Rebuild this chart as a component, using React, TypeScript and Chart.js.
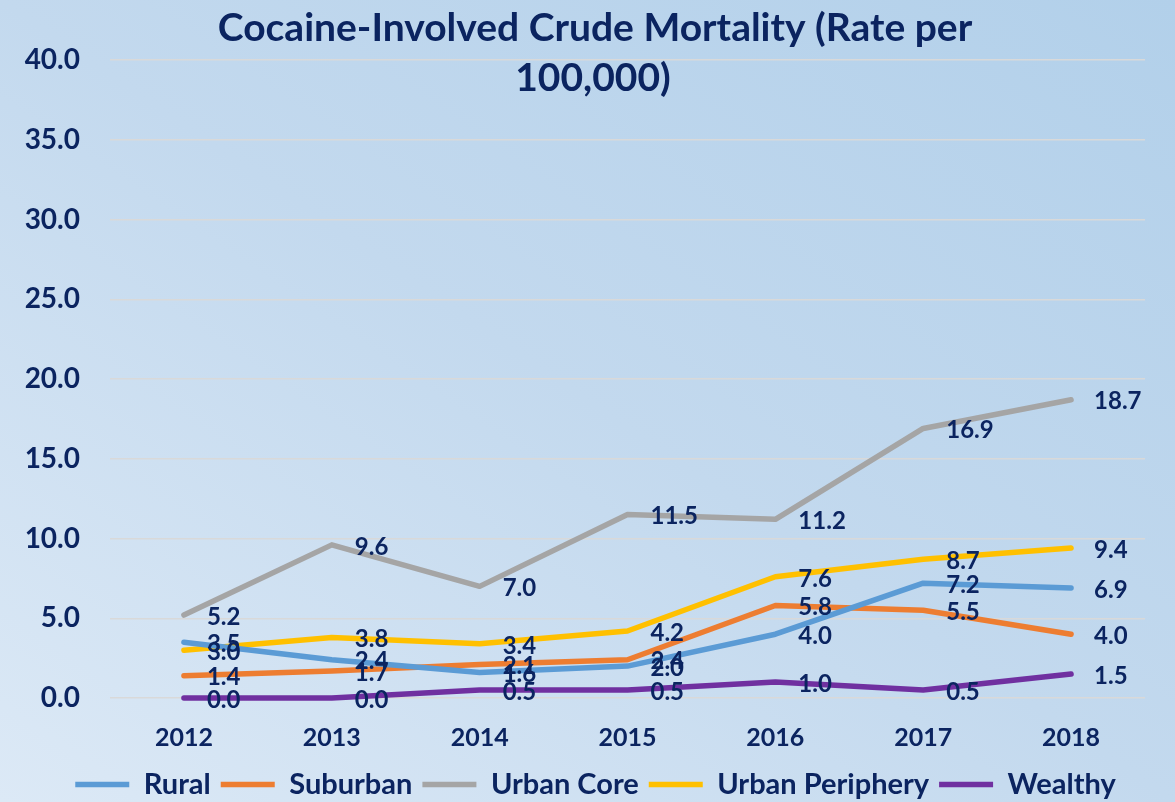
import React, { useEffect, useRef } from "react";
import { Chart, registerables } from "chart.js";

Chart.register(...registerables);

const years = ["2012", "2013", "2014", "2015", "2016", "2017", "2018"];
const rural = [3.5, 2.4, 1.6, 2.0, 4.0, 7.2, 6.9];
const suburban = [1.4, 1.7, 2.1, 2.4, 5.8, 5.5, 4.0];
const urbanCore = [5.2, 9.6, 7.0, 11.5, 11.2, 16.9, 18.7];
const urbanPeriphery = [3.0, 3.8, 3.4, 4.2, 7.6, 8.7, 9.4];
const wealthy = [0.0, 0.0, 0.5, 0.5, 1.0, 0.5, 1.5];
const seriesNames = ["Rural", "Suburban", "Urban Core", "Urban Periphery", "Wealthy"];
const seriesColors = ["#5B9BD5", "#ED7D31", "#A5A5A5", "#FFC000", "#7030A0"];
const titleLines = ["Cocaine-Involved Crude Mortality (Rate per", "100,000)"];

const NAVY = "#0b2460";
const FONT = "Lato, 'Open Sans', sans-serif";

const titlePlugin = {
  id: "customTitle",
  afterDraw(chart: any) {
    const ctx = chart.ctx;
    ctx.save();
    ctx.font = `bold 39px ${FONT}`;
    ctx.fillStyle = NAVY;
    ctx.textAlign = "center";
    ctx.textBaseline = "middle";
    ctx.fillText(titleLines[0], 595, 28);
    ctx.fillText(titleLines[1], 593, 78);
    ctx.restore();
  },
};

const dataLabelPlugin = {
  id: "dataLabels",
  afterDatasetsDraw(chart: any) {
    const ctx = chart.ctx;
    ctx.save();
    ctx.font = `bold 24px ${FONT}`;
    ctx.fillStyle = NAVY;
    ctx.textAlign = "left";
    ctx.textBaseline = "middle";
    chart.data.datasets.forEach((ds: any, i: number) => {
      const meta = chart.getDatasetMeta(i);
      meta.data.forEach((pt: any, j: number) => {
        const v = ds.data[j] as number;
        ctx.fillText(v.toFixed(1), pt.x + 23, pt.y + 2);
      });
    });
    ctx.restore();
  },
};

const legendFitPlugin = {
  id: "legendFit",
  beforeInit(chart: any) {
    const legend = chart.legend;
    if (!legend) return;
    const origFit = legend.fit;
    legend.fit = function (this: any) {
      origFit.call(this);
      this.height = 42;
    };
    const origDraw = legend.draw;
    legend.draw = function (this: any) {
      const ctx = this.ctx;
      ctx.save();
      ctx.translate(18, 0);
      origDraw.call(this);
      ctx.restore();
    };
  },
};

export default function App() {
  const ref = useRef<HTMLCanvasElement | null>(null);

  useEffect(() => {
    document.body.style.margin = "0";
    const canvas = ref.current;
    if (!canvas) return;
    const allData = [rural, suburban, urbanCore, urbanPeriphery, wealthy];
    const chart = new Chart(canvas, {
      type: "line",
      data: {
        labels: years,
        datasets: seriesNames.map((name, i) => ({
          label: name,
          data: allData[i],
          borderColor: seriesColors[i],
          backgroundColor: seriesColors[i],
          borderWidth: 5.5,
          borderCapStyle: "round",
          borderJoinStyle: "round",
          pointRadius: 0,
          pointHoverRadius: 0,
          tension: 0,
          fill: false,
          clip: false,
        })),
      },
      options: {
        responsive: false,
        animation: false,
        layout: { padding: { left: 10, right: 30, top: 60, bottom: 0 } },
        scales: {
          x: {
            offset: true,
            grid: { display: false, drawTicks: false, offset: true },
            border: { display: false },
            ticks: {
              padding: 25,
              color: NAVY,
              font: { family: FONT, size: 25, weight: "bold" },
            },
            afterFit(scale: any) {
              scale.height = 62;
            },
          },
          y: {
            min: 0,
            max: 40,
            grid: { color: "#d9d9d9", lineWidth: 1.5, drawTicks: false },
            border: { display: false },
            ticks: {
              stepSize: 5,
              padding: 30,
              color: NAVY,
              font: { family: FONT, size: 28, weight: "bold" },
              callback: (v: any) => Number(v).toFixed(1),
            },
            afterFit(scale: any) {
              scale.width = 100;
            },
          },
        },
        plugins: {
          title: { display: false },
          tooltip: { enabled: false },
          legend: {
            display: true,
            position: "bottom",
            labels: {
              usePointStyle: true,
              pointStyle: "line",
              pointStyleWidth: 54,
              padding: 10,
              color: NAVY,
              font: { family: FONT, size: 29, weight: "bold" },
            },
          },
        },
      },
      plugins: [titlePlugin, dataLabelPlugin, legendFitPlugin],
    } as any);
    return () => chart.destroy();
  }, []);

  return (
    <div
      style={{
        position: "absolute",
        left: 0,
        top: 0,
        width: 1175,
        height: 802,
        background: "linear-gradient(to top right, #dce9f6 0%, #c3d9ee 50%, #b2d0ea 100%)",
      }}
    >
      <canvas ref={ref} width={1175} height={802} style={{ display: "block" }} />
    </div>
  );
}
